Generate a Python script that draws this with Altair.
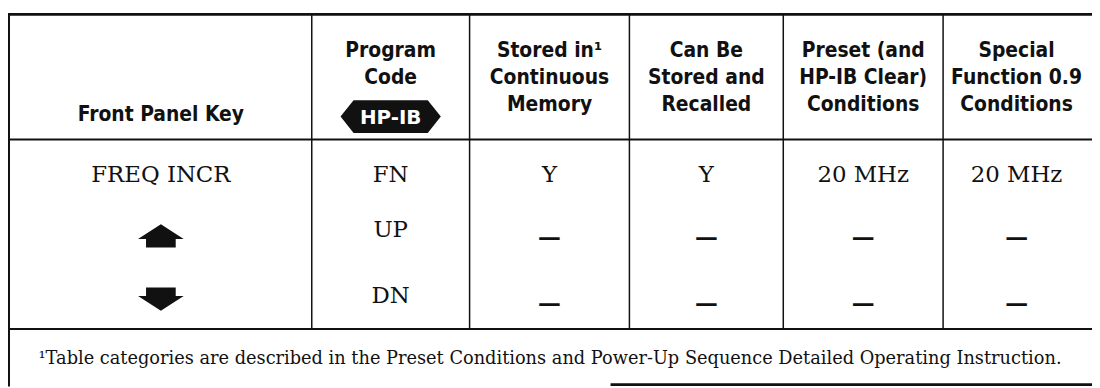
import altair as alt
import pandas as pd

# ---------------- content ----------------
header_lines = [
    ["Front Panel Key"],
    ["Program", "Code"],
    ["Stored in¹", "Continuous", "Memory"],
    ["Can Be", "Stored and", "Recalled"],
    ["Preset (and", "HP-IB Clear)", "Conditions"],
    ["Special", "Function 0.9", "Conditions"],
]
badge_label = "HP-IB"
front_panel_keys = ["FREQ INCR", "up arrow", "down arrow"]
program_codes = ["FN", "UP", "DN"]
stored_in_memory = ["Y", "—", "—"]
stored_recalled = ["Y", "—", "—"]
preset_conditions = ["20 MHz", "—", "—"]
special_conditions = ["20 MHz", "—", "—"]
footnote = ("¹Table categories are described in the Preset Conditions and "
            "Power-Up Sequence Detailed Operating Instruction.")

# ---------------- layout (page pixel coordinates) ----------------
W, H = 1092, 380
col_edges = [9, 314, 473, 634, 789, 950, 1100]
col_centers = [(a + b) / 2 for a, b in zip(col_edges[:-1], col_edges[1:])]
col_centers[0] = 162
col_centers[-1] = 1024
header_rows = {1: [114], 2: [50, 77], 3: [50, 77, 104]}
badge_y = 116
row_y = [175, 230, 297]
arrow_y = {"up arrow": 236, "down arrow": 300}
foot_x, foot_y = 554, 360
top_y, head_y, body_y, bottom_y = 13, 139, 330, 386

HEAD_FONT = "Liberation Sans Narrow, DejaVu Sans Condensed, Arial Narrow, sans-serif"
BODY_FONT = "DejaVu Serif"
INK = "#111111"

xs = alt.Scale(domain=[8, 1100], range=[0, W])
ys = alt.Scale(domain=[8, 388], range=[0, H])

# ---------------- tables ----------------
lines = pd.DataFrame(
    [
        dict(x=8, x2=1100, y=top_y, y2=top_y, w=2.6),
        dict(x=9, x2=1100, y=head_y, y2=head_y, w=2.0),
        dict(x=9, x2=1100, y=body_y, y2=body_y, w=2.0),
        dict(x=615, x2=1100, y=bottom_y, y2=bottom_y, w=2.6),
        dict(x=9, x2=9, y=top_y, y2=388, w=2.0),
    ]
    + [dict(x=e, x2=e, y=top_y, y2=body_y, w=1.5) for e in col_edges[1:-1]]
)

head_recs = []
for i, lns in enumerate(header_lines):
    for txt, yy in zip(lns, header_rows[len(lns)]):
        head_recs.append(dict(x=col_centers[i], y=yy, t=txt))
heads = pd.DataFrame(head_recs)

columns = [front_panel_keys, program_codes, stored_in_memory,
           stored_recalled, preset_conditions, special_conditions]
body_recs = []
for i, col in enumerate(columns):
    for j, val in enumerate(col):
        if val in arrow_y:
            continue
        body_recs.append(dict(x=col_centers[i], y=row_y[j], t=val))
body_all = pd.DataFrame(body_recs)
body = body_all[body_all["t"] != "—"]
dashes = body_all[body_all["t"] == "—"]

up = pd.DataFrame([dict(x=col_centers[0], y=arrow_y[k]) for k in front_panel_keys if k == "up arrow"])
down = pd.DataFrame([dict(x=col_centers[0], y=arrow_y[k]) for k in front_panel_keys if k == "down arrow"])
badge = pd.DataFrame([dict(x=col_centers[1], y=badge_y, t=badge_label)])
foot = pd.DataFrame([dict(x=foot_x, y=foot_y, t=footnote)])

X = alt.X("x:Q", scale=xs, axis=None)
Y = alt.Y("y:Q", scale=ys, axis=None)

rules = alt.Chart(lines).mark_rule(color=INK).encode(
    x=X, x2="x2:Q", y=Y, y2="y2:Q",
    strokeWidth=alt.StrokeWidth("w:Q", scale=None),
)

head_text = alt.Chart(heads).mark_text(
    font=HEAD_FONT, fontWeight="bold", fontSize=21, color=INK,
    align="center", baseline="middle",
).encode(x=X, y=Y, text="t:N")

body_text = alt.Chart(body).mark_text(
    font=BODY_FONT, fontSize=23, color=INK, align="center", baseline="middle",
).encode(x=X, y=Y, text="t:N")

dash_text = alt.Chart(dashes).mark_text(
    font=BODY_FONT, fontWeight="bold", fontSize=23, color=INK,
    align="center", baseline="middle", dy=8,
).encode(x=X, y=Y, text="t:N")

UP_PATH = "M 0 -0.5 L 1 0.14 L 0.65 0.14 L 0.65 0.52 L -0.65 0.52 L -0.65 0.14 L -1 0.14 Z"
DOWN_PATH = "M 0 0.5 L 1 -0.14 L 0.65 -0.14 L 0.65 -0.52 L -0.65 -0.52 L -0.65 -0.14 L -1 -0.14 Z"
BADGE_PATH = "M -1 0 L -0.74 -0.327 L 0.74 -0.327 L 1 0 L 0.74 0.327 L -0.74 0.327 Z"

up_mark = alt.Chart(up).mark_point(
    shape=UP_PATH, filled=True, color=INK, opacity=1, size=2116, strokeWidth=0
).encode(x=X, y=Y)
down_mark = alt.Chart(down).mark_point(
    shape=DOWN_PATH, filled=True, color=INK, opacity=1, size=2116, strokeWidth=0
).encode(x=X, y=Y)
badge_mark = alt.Chart(badge).mark_point(
    shape=BADGE_PATH, filled=True, color=INK, opacity=1, size=10201, strokeWidth=0
).encode(x=X, y=Y)
badge_text = alt.Chart(badge).mark_text(
    font="DejaVu Sans", fontWeight="bold", fontSize=20, color="white",
    align="center", baseline="middle", dy=1,
).encode(x=X, y=Y, text="t:N")

foot_text = alt.Chart(foot).mark_text(
    font=BODY_FONT, fontSize=17.9, color=INK, align="center", baseline="middle",
).encode(x=X, y=Y, text="t:N")

chart = alt.layer(
    rules, head_text, body_text, dash_text, up_mark, down_mark,
    badge_mark, badge_text, foot_text
).properties(
    width=W, height=H, padding=0, autosize="none", background="white"
).configure_view(stroke=None)

chart.save("out.html", embed_options={"renderer": "svg", "actions": False})
